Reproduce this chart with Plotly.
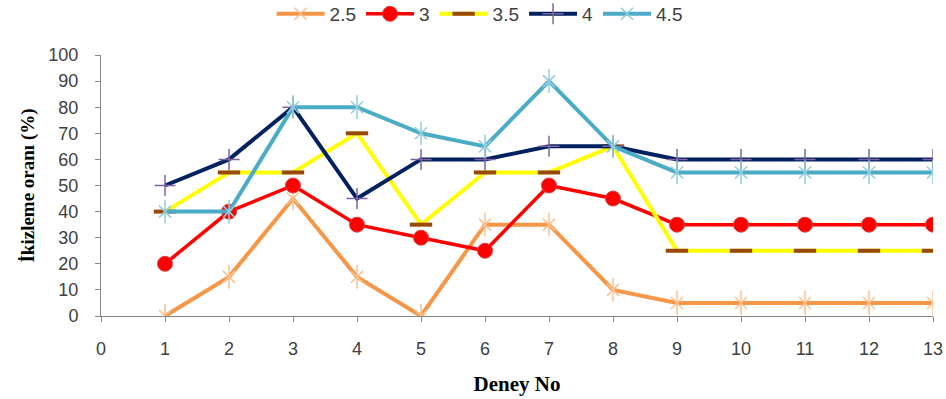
import plotly.graph_objects as go

deney = list(range(1, 14))
s25 = [0, 15, 45, 15, 0, 35, 35, 10, 5, 5, 5, 5, 5]
s3 = [20, 40, 50, 35, 30, 25, 50, 45, 35, 35, 35, 35, 35]
s35 = [40, 55, 55, 70, 35, 55, 55, 65, 25, 25, 25, 25, 25]
s4 = [50, 60, 80, 45, 60, 60, 65, 65, 60, 60, 60, 60, 60]
s45 = [40, 40, 80, 80, 70, 65, 90, 65, 55, 55, 55, 55, 55]
names = ["2.5", "3", "3.5", "4", "4.5"]
x_ticks = list(range(0, 14))
y_ticks = list(range(0, 101, 10))

fig = go.Figure()


def star_series(y, name, line_color, marker_color):
    fig.add_trace(go.Scatter(x=deney, y=y, name=name, mode="lines+markers", legendgroup=name,
                             line=dict(color=line_color, width=4),
                             marker=dict(symbol="x-thin-open", size=12, color=marker_color,
                                         line=dict(color=marker_color, width=1.5))))
    fig.add_trace(go.Scatter(x=deney, y=y, name=name, mode="markers", legendgroup=name,
                             showlegend=False, hoverinfo="skip",
                             marker=dict(symbol="line-ns-open", size=17, color=marker_color,
                                         line=dict(color=marker_color, width=1.5))))


star_series(s25, names[0], "#F79646", "#FAC090")
fig.add_trace(go.Scatter(x=deney, y=s3, name=names[1], mode="lines+markers",
                         line=dict(color="#FF0000", width=3.5),
                         marker=dict(symbol="circle", size=15, color="#FF0000",
                                     line=dict(color="#E04040", width=1))))
fig.add_trace(go.Scatter(x=deney, y=s35, name=names[2], mode="lines+markers",
                         line=dict(color="#FFFF00", width=4),
                         marker=dict(symbol="line-ew-open", size=16, color="#984807",
                                     line=dict(color="#984807", width=4))))
fig.add_trace(go.Scatter(x=deney, y=s4, name=names[3], mode="lines+markers",
                         line=dict(color="#002060", width=4),
                         marker=dict(symbol="cross-thin-open", size=15, color="#8064A2",
                                     line=dict(color="#8064A2", width=1.5))))
star_series(s45, names[4], "#4BACC6", "#93CDDD")

axis_common = dict(showgrid=False, zeroline=False, showline=True, linecolor="#868686",
                   linewidth=1, ticks="outside", ticklen=5, tickcolor="#868686",
                   tickfont=dict(family="Liberation Sans", size=18, color="#404040"))

fig.update_xaxes(range=[0, 13], tickmode="array", tickvals=x_ticks, ticklabelstandoff=11,
                 title=dict(text="<b>Deney No</b>", standoff=18,
                            font=dict(family="Liberation Serif", size=21, color="#000000")),
                 **axis_common)
fig.update_yaxes(range=[0, 100], tickmode="array", tickvals=y_ticks, ticklabelstandoff=13,
                 title=dict(text="<b>İkizleme oranı (%)</b>", standoff=8,
                            font=dict(family="Liberation Serif", size=19, color="#000000")),
                 **axis_common)

fig.update_layout(
    width=946, height=399,
    margin=dict(l=101, r=13, t=55, b=83, autoexpand=False),
    plot_bgcolor="white", paper_bgcolor="white",
    showlegend=True,
    legend=dict(orientation="h", x=0.507, xanchor="center", xref="container",
                y=0.965, yanchor="middle", yref="container",
                font=dict(family="Liberation Sans", size=19, color="#404040"),
                itemwidth=48, tracegroupgap=0),
)
fig.write_html("out.html", config={"displayModeBar": False},
               post_script="document.body.style.margin='0';document.body.style.overflow='hidden';")
